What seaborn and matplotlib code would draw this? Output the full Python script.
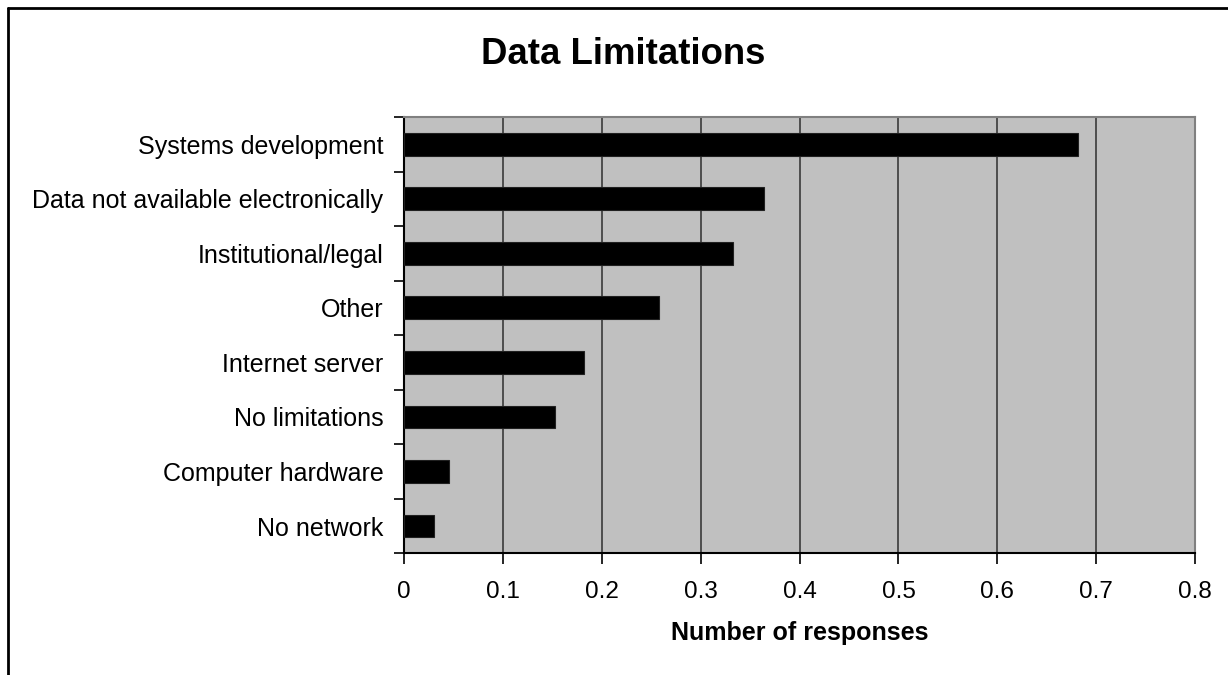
import matplotlib
matplotlib.use("Agg")
import matplotlib.pyplot as plt
import matplotlib.lines as mlines
import seaborn as sns
import pandas as pd
import numpy as np

categories = [
    "Systems development",
    "Data not available electronically",
    "Institutional/legal",
    "Other",
    "Internet server",
    "No limitations",
    "Computer hardware",
    "No network",
]
responses = [0.682, 0.364, 0.333, 0.258, 0.182, 0.152, 0.045, 0.030]
x_ticks = [0, 0.1, 0.2, 0.3, 0.4, 0.5, 0.6, 0.7, 0.8]
x_tick_labels = ["0", "0.1", "0.2", "0.3", "0.4", "0.5", "0.6", "0.7", "0.8"]

df = pd.DataFrame({"category": categories, "responses": responses})

sns.set_theme(style="white")
plt.rcParams["font.family"] = ["Liberation Sans", "DejaVu Sans"]
plt.rcParams["text.color"] = "black"
plt.rcParams["axes.labelcolor"] = "black"
plt.rcParams["xtick.color"] = "black"
plt.rcParams["ytick.color"] = "black"

W, H = 1228, 675
fig = plt.figure(figsize=(W / 100, H / 100), dpi=100)
fig.patch.set_facecolor("white")

ax = fig.add_axes([404.3 / W, 1 - 553.3 / H, (1195 - 404.3) / W, (553.3 - 117) / H])
ax.set_facecolor("#C0C0C0")

sns.barplot(data=df, x="responses", y="category", order=categories,
            color="black", width=0.42, saturation=1, ax=ax, zorder=3)
for p in ax.patches:
    p.set_edgecolor("#202020")
    p.set_linewidth(0.8)

ax.set_xlim(0, 0.8)
ax.set_ylim(len(categories) - 0.5, -0.5)

# vertical gridlines
for xv in x_ticks[1:-1]:
    ax.axvline(xv, color="#3a3a3a", lw=1.2, zorder=1)

ax.set_xticks(x_ticks)
ax.set_xticklabels(x_tick_labels, fontsize=17.5)
ax.tick_params(axis="x", direction="out", length=8, width=1.2, color="black",
               pad=12, bottom=True)

# category labels centred on bars, tick marks on category boundaries
ax.set_yticks(np.arange(len(categories) + 1) - 0.5)
ax.set_yticklabels([])
ax.set_yticks(np.arange(len(categories)), minor=True)
ax.set_yticklabels(categories, minor=True, fontsize=18)
ax.tick_params(axis="y", which="major", direction="out", length=7, width=1.2,
               color="black", left=True)
ax.tick_params(axis="y", which="minor", length=0, pad=15)

ax.set_ylabel("")
ax.set_xlabel("Number of responses", fontsize=18, fontweight="bold", labelpad=13)

for side in ["top", "right"]:
    ax.spines[side].set_visible(True)
    ax.spines[side].set_color("#808080")
    ax.spines[side].set_linewidth(1.5)
for side in ["left", "bottom"]:
    ax.spines[side].set_visible(True)
    ax.spines[side].set_color("black")
    ax.spines[side].set_linewidth(1.5)

fig.text(623.5 / W, 1 - 55 / H, "Data Limitations", fontsize=26.3, fontweight="bold",
         ha="center", va="center")

# outer chart frame
fig.add_artist(mlines.Line2D([8 / W, 8 / W], [1 - 8 / H, 0], color="black", lw=2,
                             transform=fig.transFigure))
fig.add_artist(mlines.Line2D([8 / W, 1], [1 - 8 / H, 1 - 8 / H], color="black", lw=2,
                             transform=fig.transFigure))

fig.savefig("out.png", dpi=100)
